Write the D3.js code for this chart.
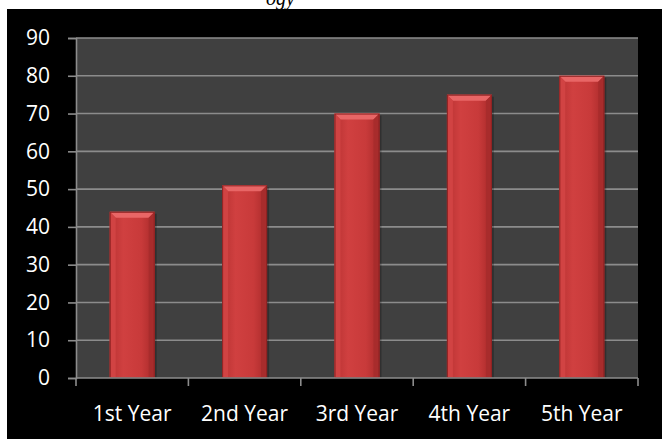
<!DOCTYPE html>
<html>
<head>
<meta charset="utf-8">
<script src="https://cdn.jsdelivr.net/npm/d3@7/dist/d3.min.js"></script>
<style>
  html, body { margin: 0; padding: 0; background: #ffffff; }
  svg { display: block; }
</style>
</head>
<body>
<svg id="chart" width="662" height="439"></svg>
<script>
const categories = ["1st Year", "2nd Year", "3rd Year", "4th Year", "5th Year"];
const values = [44, 51, 70, 75, 80];
const yTicks = [0, 10, 20, 30, 40, 50, 60, 70, 80, 90];
const titleFragment = "ogy";

const W = 662, H = 439;
const plot = { left: 76, right: 638, top: 38, bottom: 378 };

const svg = d3.select("#chart");
const defs = svg.append("defs");

// white page strip and clipped title fragment
svg.append("rect").attr("x", 0).attr("y", 0).attr("width", W).attr("height", H).attr("fill", "#ffffff");
svg.append("text")
  .attr("x", 266).attr("y", 5)
  .attr("font-family", "Liberation Serif, serif")
  .attr("font-style", "italic")
  .attr("font-size", 20)
  .attr("fill", "#000")
  .text(titleFragment);
svg.append("rect").attr("x", 7).attr("y", 9).attr("width", W - 7).attr("height", H - 9).attr("fill", "#000000");

const x = d3.scaleBand().domain(categories).range([plot.left, plot.right]).paddingInner(0.6).paddingOuter(0.3);
const xb = d3.scaleBand().domain(categories).range([plot.left, plot.right]);
const y = d3.scaleLinear().domain([0, 90]).range([plot.bottom, plot.top]);

// plot background
svg.append("rect")
  .attr("x", plot.left).attr("y", plot.top)
  .attr("width", plot.right - plot.left).attr("height", plot.bottom - plot.top)
  .attr("fill", "#404040");

// gridlines
svg.append("g").selectAll("line").data(yTicks.filter(d => d > 0)).join("line")
  .attr("x1", plot.left).attr("x2", plot.right)
  .attr("y1", d => y(d)).attr("y2", d => y(d))
  .attr("stroke", "#8c8c8c").attr("stroke-width", 1.6);

// gradients
const g1 = defs.append("linearGradient").attr("id", "barGrad").attr("x1", 0).attr("x2", 1).attr("y1", 0).attr("y2", 0);
g1.append("stop").attr("offset", "0%").attr("stop-color", "#b83232");
g1.append("stop").attr("offset", "30%").attr("stop-color", "#d04040");
g1.append("stop").attr("offset", "70%").attr("stop-color", "#c83a3a");
g1.append("stop").attr("offset", "100%").attr("stop-color", "#a82a2a");

const bev = 6;
const bars = svg.append("g").selectAll("g").data(categories).join("g");

// shadow
bars.append("rect")
  .attr("x", d => x(d) + 2).attr("y", (d, i) => y(values[i]) + 2)
  .attr("width", x.bandwidth()).attr("height", (d, i) => plot.bottom - y(values[i]) - 2)
  .attr("fill", "#000").attr("opacity", 0.25);

bars.append("rect")
  .attr("x", d => x(d)).attr("y", (d, i) => y(values[i]))
  .attr("width", x.bandwidth()).attr("height", (d, i) => plot.bottom - y(values[i]))
  .attr("fill", "url(#barGrad)");

// top bevel
bars.append("path")
  .attr("d", (d, i) => {
    const x0 = x(d), x1 = x(d) + x.bandwidth(), t = y(values[i]);
    return `M${x0},${t}L${x1},${t}L${x1 - bev},${t + bev}L${x0 + bev},${t + bev}Z`;
  })
  .attr("fill", "#e86666");
// left bevel
bars.append("path")
  .attr("d", (d, i) => {
    const x0 = x(d), t = y(values[i]), b = plot.bottom;
    return `M${x0},${t}L${x0 + bev},${t + bev}L${x0 + bev},${b}L${x0},${b}Z`;
  })
  .attr("fill", "#d34545").attr("opacity", 0.9);
// right bevel
bars.append("path")
  .attr("d", (d, i) => {
    const x1 = x(d) + x.bandwidth(), t = y(values[i]), b = plot.bottom;
    return `M${x1},${t}L${x1 - bev},${t + bev}L${x1 - bev},${b}L${x1},${b}Z`;
  })
  .attr("fill", "#a82c2c");
// outline
bars.append("rect")
  .attr("x", d => x(d) + 0.5).attr("y", (d, i) => y(values[i]) + 0.5)
  .attr("width", x.bandwidth() - 1).attr("height", (d, i) => plot.bottom - y(values[i]) - 1)
  .attr("fill", "none").attr("stroke", "#8e2222").attr("stroke-width", 1);

// y axis
const yAxis = d3.axisLeft(y).tickValues(yTicks).tickSize(8).tickPadding(18).tickFormat(d3.format("d"));
const gy = svg.append("g").attr("transform", `translate(${plot.left},0)`).call(yAxis);
gy.select(".domain").attr("stroke", "#8c8c8c").attr("stroke-width", 1.6);
gy.selectAll(".tick line").attr("stroke", "#8c8c8c").attr("stroke-width", 1.6);
gy.selectAll(".tick text")
  .attr("fill", "#ffffff")
  .attr("font-family", "Open Sans, sans-serif")
  .attr("font-size", 21);

// x axis with ticks at band boundaries
const gx = svg.append("g").attr("transform", `translate(0,${plot.bottom})`);
gx.append("line").attr("x1", plot.left).attr("x2", plot.right).attr("y1", 0).attr("y2", 0)
  .attr("stroke", "#8c8c8c").attr("stroke-width", 1.6);
const bounds = categories.map(c => xb(c)).concat([plot.right]);
gx.selectAll("line.tk").data(bounds).join("line").attr("class", "tk")
  .attr("x1", d => d).attr("x2", d => d).attr("y1", 0).attr("y2", 8)
  .attr("stroke", "#8c8c8c").attr("stroke-width", 1.6);
gx.selectAll("text").data(categories).join("text")
  .attr("x", d => xb(d) + xb.bandwidth() / 2)
  .attr("y", 43)
  .attr("text-anchor", "middle")
  .attr("fill", "#ffffff")
  .attr("font-family", "Open Sans, sans-serif")
  .attr("font-size", 21)
  .text(d => d);
</script>
</body>
</html>
